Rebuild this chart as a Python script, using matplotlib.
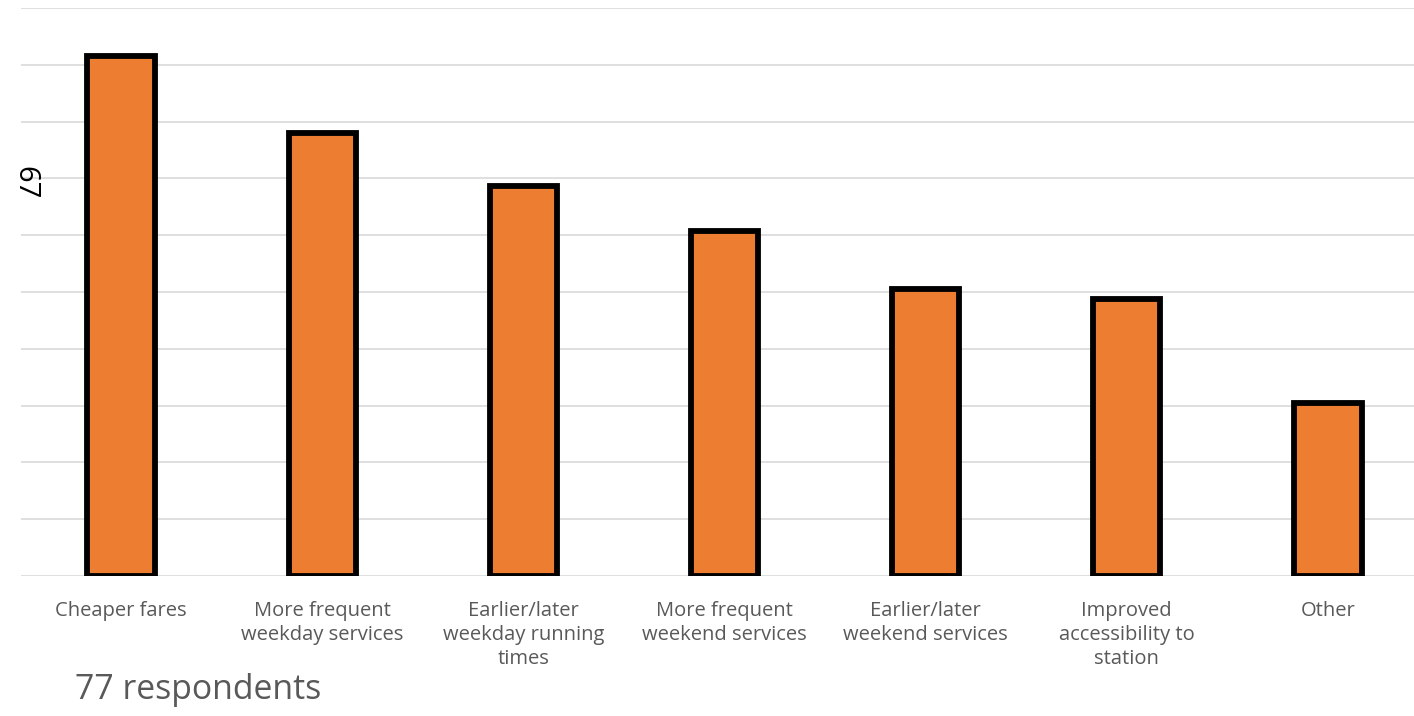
import matplotlib
matplotlib.use("Agg")
import matplotlib.pyplot as plt

categories = [
    "Cheaper fares",
    "More frequent\nweekday services",
    "Earlier/later\nweekday running\ntimes",
    "More frequent\nweekend services",
    "Earlier/later\nweekend services",
    "Improved\naccessibility to\nstation",
    "Other",
]
responses = [45.8, 39, 34.3, 30.4, 25.3, 24.4, 15.2]

plt.rcParams["font.family"] = ["Open Sans", "DejaVu Sans"]

fig = plt.figure(figsize=(14.14, 7.16), dpi=100)
ax = fig.add_axes([20.5 / 1414, 1 - 576 / 716, 1408 / 1414, 568 / 716])

x = range(len(categories))
ax.bar(x, responses, width=0.335, color="#ED7D31", edgecolor="black",
       linewidth=4.2, zorder=3)

ax.set_xlim(-0.5, len(categories) - 0.5)
ax.set_ylim(0, 50)
ax.set_yticks(range(0, 51, 5))
ax.yaxis.grid(True, color="#D9D9D9", linewidth=1.2, zorder=0)
ax.tick_params(axis="y", left=False, labelleft=False)
ax.tick_params(axis="x", length=0, pad=18)
ax.set_xticks(list(x))
ax.set_xticklabels(categories, fontsize=14.5, color="#595959", linespacing=1.25)
for s in ax.spines.values():
    s.set_visible(False)

fig.text(25 / 1414, 1 - 183 / 716, "67", rotation=270, fontsize=21,
         ha="center", va="center", color="black")
fig.text(75 / 1414, 1 - 690 / 716, "77 respondents", fontsize=24.3,
         ha="left", va="center", color="#595959")

fig.savefig("out.png", dpi=100)
